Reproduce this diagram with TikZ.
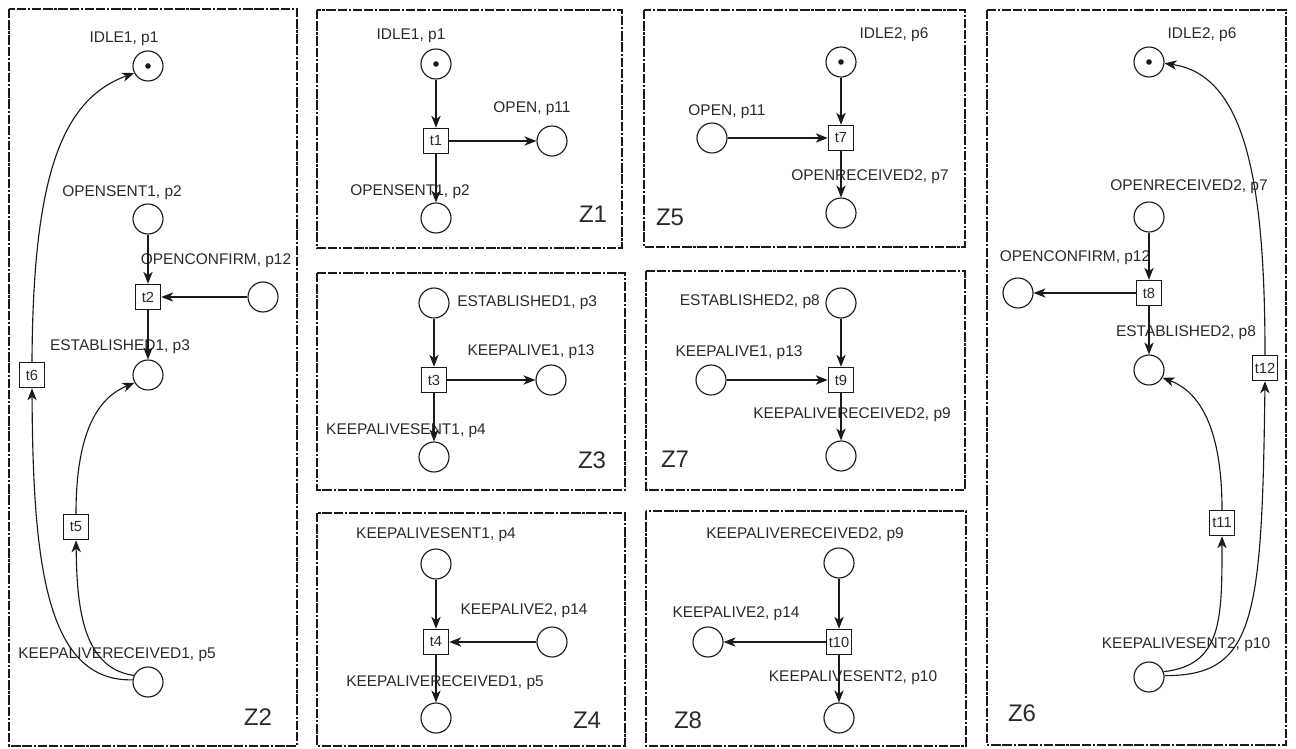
\documentclass[tikz,border=0pt]{standalone}
\usepackage{fontspec}
\setmainfont{Liberation Sans}
\usetikzlibrary{arrows.meta}
\definecolor{ln}{HTML}{1A1A1A}
\definecolor{tx}{HTML}{2A2A2A}
\begin{document}
\begin{tikzpicture}[x=0.75pt,y=-0.75pt,
  place/.style={circle,draw=ln,line width=0.85pt,minimum size=22.5pt,inner sep=0pt},
  trans/.style={rectangle,draw=ln,line width=0.85pt,minimum size=19pt,inner sep=0pt,font=\fontsize{11}{12}\selectfont,text=tx,fill=white},
  lbl/.style={font=\fontsize{11.6}{13}\selectfont,text=tx,inner sep=0pt},
  zlbl/.style={font=\fontsize{18}{20}\selectfont,text=tx,inner sep=0pt},
  arc/.style={draw=ln,line width=0.85pt,-{Stealth[length=9pt,width=7pt,inset=2.6pt]}},
  zone/.style={draw=ln,line width=1.8pt,dash pattern=on 7pt off 1.4pt on 7pt off 1.4pt on 1.6pt off 1.4pt},
  token/.style={circle,fill=ln,minimum size=4.2pt,inner sep=0pt}]
\useasboundingbox (0,0) rectangle (1296,749);

% zones
\draw[zone] (9,9) rectangle (297,746);
\draw[zone] (317,10) rectangle (622,248);
\draw[zone] (644,10) rectangle (965,247);
\draw[zone] (987,10) rectangle (1286,745);
\draw[zone] (317,273) rectangle (625,490);
\draw[zone] (646,271) rectangle (965,490);
\draw[zone] (317,513) rectangle (625,746);
\draw[zone] (646,511) rectangle (966,746);

% ---------------- Z2 ----------------
\node[place] (z2p1) at (148,66) {};
\node[token] (z2k1) at (z2p1) {};
\node[place] (z2p2) at (148,219) {};
\node[trans] (z2t2) at (148,297) {t2};
\node[place] (z2p12) at (263,297) {};
\node[place] (z2p3) at (148,375) {};
\node[trans] (z2t6) at (32,375) {t6};
\node[trans] (z2t5) at (76,527) {t5};
\node[place] (z2p5) at (148,682) {};
\node[lbl] (z2l1) at (124,39) {IDLE1, p1};
\node[lbl] (z2l2) at (122,193) {OPENSENT1, p2};
\node[lbl] (z2l12) at (216,261) {OPENCONFIRM, p12};
\node[lbl] (z2l3) at (120,347) {ESTABLISHED1, p3};
\node[lbl] (z2l5) at (117,655) {KEEPALIVERECEIVED1, p5};
\node[zlbl] (z2z) at (258,717) {Z2};
\draw[arc] (z2p2) -- (z2t2);
\draw[arc] (z2p12) -- (z2t2);
\draw[arc] (z2t2) -- (z2p3);
\draw[arc] (z2p5.155) .. controls (80,668) and (77,600) .. (z2t5.south);
\draw[arc] (z2t5.north) .. controls (76,420) and (105,395) .. (z2p3.210);
\draw[arc] (z2p5.172) .. controls (45,682) and (33,560) .. (z2t6.south);
\draw[arc] (z2t6.north) .. controls (33,180) and (60,100) .. (z2p1.207);

% ---------------- Z1 ----------------
\node[place] (z1p1) at (436,64) {};
\node[token] (z1k1) at (z1p1) {};
\node[trans] (z1t1) at (436,141) {t1};
\node[place] (z1p11) at (552,141) {};
\node[place] (z1p2) at (436,218) {};
\node[lbl] (z1l1) at (411,36) {IDLE1, p1};
\node[lbl] (z1l11) at (532,109) {OPEN, p11};
\node[lbl] (z1l2) at (410,192) {OPENSENT1, p2};
\node[zlbl] (z1z) at (593,214) {Z1};
\draw[arc] (z1p1) -- (z1t1);
\draw[arc] (z1t1) -- (z1p11);
\draw[arc] (z1t1) -- (z1p2);

% ---------------- Z5 ----------------
\node[place] (z5p6) at (841,62) {};
\node[token] (z5k6) at (z5p6) {};
\node[trans] (z5t7) at (841,138) {t7};
\node[place] (z5p11) at (712,138) {};
\node[place] (z5p7) at (841,213) {};
\node[lbl] (z5l6) at (894,35) {IDLE2, p6};
\node[lbl] (z5l11) at (727,112) {OPEN, p11};
\node[lbl] (z5l7) at (870,177) {OPENRECEIVED2, p7};
\node[zlbl] (z5z) at (670,217) {Z5};
\draw[arc] (z5p6) -- (z5t7);
\draw[arc] (z5p11) -- (z5t7);
\draw[arc] (z5t7) -- (z5p7);

% ---------------- Z3 ----------------
\node[place] (z3p3) at (434,303) {};
\node[trans] (z3t3) at (434,380) {t3};
\node[place] (z3p13) at (551,380) {};
\node[place] (z3p4) at (434,457) {};
\node[lbl,anchor=west] (z3l3) at (457,303) {ESTABLISHED1, p3};
\node[lbl] (z3l13) at (531,352) {KEEPALIVE1, p13};
\node[lbl] (z3l4) at (406,431) {KEEPALIVESENT1, p4};
\node[zlbl] (z3z) at (592,460) {Z3};
\draw[arc] (z3p3) -- (z3t3);
\draw[arc] (z3t3) -- (z3p13);
\draw[arc] (z3t3) -- (z3p4);

% ---------------- Z7 ----------------
\node[place] (z7p8) at (841,303) {};
\node[trans] (z7t9) at (841,380) {t9};
\node[place] (z7p13) at (711,380) {};
\node[place] (z7p9) at (841,456) {};
\node[lbl,anchor=east] (z7l8) at (820,302) {ESTABLISHED2, p8};
\node[lbl] (z7l13) at (739,353) {KEEPALIVE1, p13};
\node[lbl] (z7l9) at (852,415) {KEEPALIVERECEIVED2, p9};
\node[zlbl] (z7z) at (675,459) {Z7};
\draw[arc] (z7p8) -- (z7t9);
\draw[arc] (z7p13) -- (z7t9);
\draw[arc] (z7t9) -- (z7p9);

% ---------------- Z4 ----------------
\node[place] (z4p4) at (436,564) {};
\node[trans] (z4t4) at (436,642) {t4};
\node[place] (z4p14) at (552,642) {};
\node[place] (z4p5) at (436,718) {};
\node[lbl] (z4l4) at (436,535) {KEEPALIVESENT1, p4};
\node[lbl] (z4l14) at (524,611) {KEEPALIVE2, p14};
\node[lbl] (z4l5) at (445,683) {KEEPALIVERECEIVED1, p5};
\node[zlbl] (z4z) at (587,720) {Z4};
\draw[arc] (z4p4) -- (z4t4);
\draw[arc] (z4p14) -- (z4t4);
\draw[arc] (z4t4) -- (z4p5);

% ---------------- Z8 ----------------
\node[place] (z8p9) at (839,563) {};
\node[trans] (z8t10) at (839,642) {t10};
\node[place] (z8p14) at (708,642) {};
\node[place] (z8p10) at (839,718) {};
\node[lbl] (z8l9) at (805,535) {KEEPALIVERECEIVED2, p9};
\node[lbl] (z8l14) at (736,614) {KEEPALIVE2, p14};
\node[lbl] (z8l10) at (853,678) {KEEPALIVESENT2, p10};
\node[zlbl] (z8z) at (688,720) {Z8};
\draw[arc] (z8p9) -- (z8t10);
\draw[arc] (z8t10) -- (z8p14);
\draw[arc] (z8t10) -- (z8p10);

% ---------------- Z6 ----------------
\node[place] (z6p6) at (1149,62) {};
\node[token] (z6k6) at (z6p6) {};
\node[place] (z6p7) at (1149,217) {};
\node[trans] (z6t8) at (1149,293) {t8};
\node[place] (z6p12) at (1018,293) {};
\node[place] (z6p8) at (1149,370) {};
\node[trans] (z6t12) at (1265,368) {t12};
\node[trans] (z6t11) at (1222,523) {t11};
\node[place] (z6p10) at (1149,677) {};
\node[lbl] (z6l6) at (1202,35) {IDLE2, p6};
\node[lbl] (z6l7) at (1189,187) {OPENRECEIVED2, p7};
\node[lbl] (z6l12) at (1075,258) {OPENCONFIRM, p12};
\node[lbl] (z6l8) at (1186,333) {ESTABLISHED2, p8};
\node[lbl] (z6l10) at (1186,645) {KEEPALIVESENT2, p10};
\node[zlbl] (z6z) at (1022,713) {Z6};
\draw[arc] (z6p7) -- (z6t8);
\draw[arc] (z6t8) -- (z6p12);
\draw[arc] (z6t8) -- (z6p8);
\draw[arc] (z6p10.20) .. controls (1222,665) and (1222,620) .. (z6t11.south);
\draw[arc] (z6t11.north) .. controls (1222,420) and (1195,390) .. (z6p8.-30);
\draw[arc] (z6p10.5) .. controls (1255,676) and (1262,620) .. (z6t12.south);
\draw[arc] (z6t12.north) .. controls (1265,180) and (1245,75) .. (z6p6.-5);
\end{tikzpicture}
\end{document}
